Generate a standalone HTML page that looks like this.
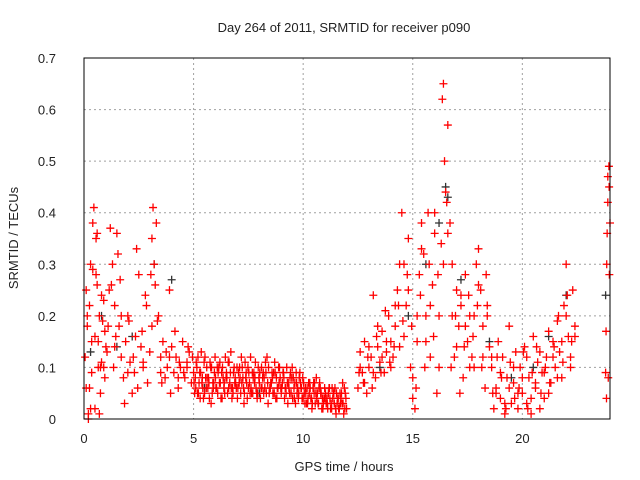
<!DOCTYPE html>
<html><head><meta charset="utf-8"><style>
body{margin:0;background:#fff}
svg{display:block;font-family:"Liberation Sans",sans-serif}
</style></head><body>
<svg id="chart" width="640" height="480" viewBox="0 0 640 480">
<rect width="640" height="480" fill="#fff"/>
<text x="344" y="32" font-size="13" text-anchor="middle" fill="#222">Day 264 of 2011, SRMTID for receiver p090</text>
<text x="344" y="471" font-size="13" text-anchor="middle" fill="#222">GPS time / hours</text>
<text x="18" y="238" font-size="13" text-anchor="middle" fill="#222" transform="rotate(-90 18 238)">SRMTID / TECUs</text>
<g id="grid"></g>
<g id="ticks"></g>
<g id="black"></g>
<g id="red"></g>
<rect x="84" y="58" width="526" height="361" fill="none" stroke="#000" stroke-width="1"/>
</svg>
<script>
const xTicks=[0,5,10,15,20];
const yTicks=[0,0.1,0.2,0.3,0.4,0.5,0.6,0.7];
const yTickLabels=["0","0.1","0.2","0.3","0.4","0.5","0.6","0.7"];
const redHours=[
0.05,0.1,0.15,0.2,0.25,0.3,0.35,0.4,0.45,0.5,0.55,0.6,0.65,0.7,0.75,0.8,0.85,0.9,0.95,1.0,0.1,0.2,0.3,0.4,0.5,0.6,0.7,0.8,0.9,1.1,
1.2,1.3,1.4,1.5,1.6,1.7,1.8,1.9,2.0,2.1,2.2,2.3,2.4,2.5,2.6,2.7,2.8,2.9,3.0,1.25,1.45,1.65,1.85,2.05,2.25,2.45,2.65,2.85,1.35,1.55,
3.1,3.15,3.2,3.25,3.3,3.4,3.5,3.6,3.7,3.8,3.9,4.0,4.1,4.2,4.3,4.4,4.5,4.6,4.7,4.8,4.9,3.05,3.35,3.55,3.75,3.95,4.15,4.35,4.55,4.75,
5.0,5.1,5.2,5.3,5.4,5.5,5.6,5.7,5.8,5.9,6.0,6.1,6.2,6.3,6.4,6.5,6.6,6.7,6.8,6.9,
7.0,7.1,7.2,7.3,7.4,7.5,7.6,7.7,7.8,7.9,8.0,8.1,8.2,8.3,8.4,8.5,8.6,8.7,8.8,8.9,
9.0,9.1,9.2,9.3,9.4,9.5,9.6,9.7,9.8,9.9,10.0,10.1,10.2,10.3,10.4,10.5,10.6,10.7,10.8,10.9,
11.0,11.1,11.2,11.3,11.4,11.5,11.6,11.7,11.8,11.9,
5.05,5.15,5.25,5.35,5.45,5.55,5.65,5.75,5.85,5.95,6.05,6.15,6.25,6.35,6.45,6.55,6.65,6.75,6.85,6.95,
7.05,7.15,7.25,7.35,7.45,7.55,7.65,7.75,7.85,7.95,8.05,8.15,8.25,8.35,8.45,8.55,8.65,8.75,8.85,8.95,
9.05,9.15,9.25,9.35,9.45,9.55,9.65,9.75,9.85,9.95,10.05,10.15,10.25,10.35,10.45,10.55,10.65,10.75,10.85,10.95,
11.05,11.15,11.25,11.35,11.45,11.55,11.65,11.75,11.85,11.95,
12.5,12.6,12.7,12.8,12.9,13.0,13.1,13.2,13.3,13.4,13.5,13.6,13.7,13.8,13.9,14.0,14.1,14.2,14.3,14.4,14.5,14.6,14.7,14.8,14.9,15.0,15.1,15.2,15.3,15.4,15.5,15.6,15.7,15.8,15.9,16.0,12.55,12.75,12.95,13.15,13.35,13.55,13.75,13.95,14.15,14.35,14.55,14.75,14.95,15.15,15.35,15.55,15.75,15.95,
16.1,16.2,16.3,16.35,16.4,16.45,16.5,16.6,16.7,16.8,16.9,17.0,17.1,17.2,17.3,17.4,17.5,17.6,17.7,17.8,17.9,18.0,18.1,18.2,18.3,18.4,18.5,16.15,16.55,16.75,16.95,17.15,17.35,17.55,17.75,17.95,18.15,18.35,
18.6,18.7,18.8,18.9,19.0,19.1,19.2,19.3,19.4,19.5,19.6,19.7,19.8,19.9,20.0,20.1,20.2,20.3,20.4,20.5,20.6,20.7,20.8,20.9,21.0,21.1,21.2,21.3,21.4,21.5,21.6,21.7,21.8,21.9,22.0,22.1,22.2,22.3,22.4,18.65,18.85,19.05,19.25,19.45,19.65,19.85,20.05,20.25,20.45,20.65,20.85,21.05,21.25,21.45,21.65,21.85,22.05,22.25,
23.8,23.85,23.9,23.95,24.0,23.82,23.87,23.92,23.97,23.84,23.9,23.96];
const redValues=[
0.12,0.25,0.18,0.01,0.22,0.3,0.09,0.38,0.41,0.02,0.35,0.26,0.15,0.2,0.05,0.11,0.19,0.23,0.08,0.14,0.06,0.0,0.02,0.29,0.16,0.36,0.01,0.24,0.1,0.18,
0.37,0.3,0.22,0.36,0.18,0.12,0.08,0.15,0.2,0.11,0.05,0.09,0.33,0.28,0.14,0.1,0.24,0.07,0.13,0.26,0.16,0.27,0.03,0.19,0.12,0.06,0.17,0.22,0.1,0.32,
0.35,0.41,0.3,0.26,0.38,0.2,0.12,0.15,0.08,0.1,0.25,0.14,0.09,0.12,0.06,0.1,0.15,0.08,0.11,0.13,0.07,0.28,0.19,0.07,0.13,0.05,0.17,0.11,0.09,0.14,
0.09,0.06,0.12,0.04,0.08,0.05,0.1,0.07,0.03,0.06,0.08,0.05,0.11,0.04,0.07,0.09,0.06,0.13,0.05,0.08,
0.04,0.1,0.07,0.03,0.09,0.06,0.12,0.05,0.08,0.04,0.07,0.1,0.05,0.09,0.03,0.06,0.08,0.11,0.04,0.07,
0.05,0.09,0.06,0.03,0.08,0.1,0.04,0.07,0.05,0.06,0.04,0.06,0.03,0.07,0.02,0.05,0.08,0.03,0.05,0.02,
0.04,0.03,0.06,0.02,0.05,0.01,0.04,0.03,0.07,0.02,
0.05,0.1,0.07,0.13,0.04,0.08,0.06,0.11,0.05,0.09,0.06,0.1,0.04,0.08,0.12,0.05,0.07,0.04,0.1,0.06,
0.09,0.05,0.08,0.11,0.04,0.07,0.05,0.09,0.06,0.1,0.04,0.08,0.06,0.12,0.05,0.07,0.09,0.04,0.06,0.08,
0.07,0.04,0.1,0.06,0.05,0.08,0.03,0.06,0.09,0.04,0.05,0.03,0.07,0.04,0.06,0.03,0.05,0.07,0.02,0.04,
0.03,0.05,0.02,0.04,0.06,0.03,0.02,0.05,0.01,0.04,
0.06,0.13,0.09,0.15,0.05,0.1,0.12,0.24,0.08,0.14,0.11,0.17,0.09,0.13,0.2,0.15,0.12,0.18,0.25,0.14,0.4,0.3,0.22,0.35,0.1,0.04,0.02,0.15,0.28,0.38,0.32,0.2,0.4,0.12,0.26,0.36,0.09,0.07,0.12,0.06,0.16,0.09,0.21,0.11,0.14,0.22,0.19,0.28,0.18,0.06,0.24,0.1,0.3,0.16,
0.05,0.2,0.34,0.62,0.65,0.5,0.44,0.57,0.38,0.3,0.12,0.25,0.18,0.22,0.08,0.28,0.15,0.2,0.12,0.1,0.3,0.33,0.25,0.18,0.06,0.2,0.14,0.28,0.42,0.1,0.2,0.05,0.14,0.24,0.16,0.22,0.1,0.28,
0.1,0.02,0.06,0.15,0.04,0.12,0.01,0.08,0.18,0.03,0.07,0.13,0.02,0.1,0.05,0.14,0.03,0.08,0.01,0.16,0.06,0.11,0.02,0.09,0.04,0.12,0.17,0.07,0.15,0.1,0.19,0.13,0.08,0.22,0.3,0.16,0.12,0.25,0.18,0.05,0.12,0.08,0.02,0.11,0.04,0.06,0.13,0.02,0.09,0.14,0.05,0.1,0.07,0.14,0.2,0.11,0.24,0.15,
0.09,0.3,0.42,0.49,0.38,0.17,0.36,0.08,0.28,0.04,0.47,0.45];
const quietHoursB=[
5.02,5.12,5.22,5.32,5.42,5.52,5.62,5.72,5.82,5.92,6.02,6.12,6.22,6.32,6.42,6.52,6.62,6.72,6.82,6.92,
7.02,7.12,7.22,7.32,7.42,7.52,7.62,7.72,7.82,7.92,8.02,8.12,8.22,8.32,8.42,8.52,8.62,8.72,8.82,8.92,
9.02,9.12,9.22,9.32,9.42,9.52,9.62,9.72,9.82,9.92,10.02,10.12,10.22,10.32,10.42,10.52,10.62,10.72,10.82,10.92,
11.02,11.12,11.22,11.32,11.42,11.52,11.62,11.72,11.82,11.92];
const quietValuesB=[
0.07,0.11,0.05,0.09,0.06,0.12,0.08,0.04,0.1,0.07,0.06,0.09,0.07,0.1,0.05,0.08,0.11,0.06,0.09,0.07,
0.06,0.08,0.1,0.05,0.07,0.09,0.06,0.08,0.11,0.05,0.09,0.06,0.08,0.05,0.1,0.07,0.05,0.09,0.06,0.1,
0.06,0.08,0.05,0.07,0.09,0.04,0.07,0.05,0.08,0.06,0.07,0.05,0.04,0.06,0.03,0.07,0.04,0.06,0.05,0.03,
0.05,0.02,0.04,0.06,0.03,0.05,0.02,0.04,0.03,0.05];
const quietHoursC=[
5.08,5.18,5.28,5.38,5.48,5.58,5.68,5.78,5.88,5.98,6.08,6.18,6.28,6.38,6.48,6.58,6.68,6.78,6.88,6.98,
7.08,7.18,7.28,7.38,7.48,7.58,7.68,7.78,7.88,7.98,8.08,8.18,8.28,8.38,8.48,8.58,8.68,8.78,8.88,8.98,
9.08,9.18,9.28,9.38,9.48,9.58,9.68,9.78,9.88,9.98,10.08,10.18,10.28,10.38,10.48,10.58,10.68,10.78,10.88,10.98,
11.08,11.18,11.28,11.38,11.48,11.58,11.68,11.78,11.88,11.98];
const quietValuesC=[
0.08,0.05,0.09,0.07,0.11,0.06,0.08,0.1,0.07,0.12,0.1,0.07,0.09,0.06,0.08,0.11,0.09,0.06,0.07,0.1,
0.07,0.12,0.06,0.08,0.1,0.05,0.09,0.07,0.05,0.08,0.06,0.09,0.11,0.07,0.06,0.09,0.05,0.08,0.1,0.06,
0.09,0.06,0.07,0.05,0.08,0.06,0.09,0.04,0.07,0.08,0.03,0.06,0.05,0.04,0.07,0.05,0.03,0.06,0.04,0.06,
0.04,0.06,0.03,0.05,0.02,0.04,0.05,0.03,0.06,0.02];
const activeHoursD=[12.6,12.8,13.0,13.2,13.4,13.6,13.8,14.0,14.2,14.4,14.6,14.8,15.0,15.2,15.4,15.6,15.8,16.0,16.2,16.4,16.6,16.8,17.0,17.2,17.4,17.6,17.8,18.0,18.2,18.4,18.6,18.8,19.0,19.2,19.4,19.6,19.8,20.0,20.2,20.4,20.6,20.8,21.0,21.2,21.4,21.6,21.8,22.0,22.2,22.4,
0.15,0.35,0.55,0.75,0.95,1.15,1.4,1.7,2.0,2.35,2.7,3.1,3.5,3.9,4.3,4.7,4.95,0.25,0.65,1.05];
const activeValuesD=[0.1,0.07,0.14,0.09,0.18,0.12,0.15,0.1,0.22,0.3,0.16,0.25,0.08,0.2,0.33,0.15,0.22,0.4,0.1,0.3,0.36,0.2,0.14,0.24,0.18,0.1,0.2,0.26,0.12,0.22,0.12,0.05,0.09,0.03,0.06,0.1,0.05,0.08,0.12,0.04,0.07,0.13,0.09,0.05,0.12,0.08,0.15,0.2,0.1,0.16,
0.2,0.15,0.28,0.1,0.17,0.25,0.14,0.2,0.09,0.16,0.11,0.18,0.09,0.12,0.08,0.1,0.12,0.06,0.1,0.13];
const blackHours=[0.3,0.8,1.5,2.2,3.2,4.0,5.5,8,13.5,14.8,15.6,16.2,16.5,16.6,17.2,18.5,19.5,20.5,21.2,22,23.8];
const blackValues=[0.13,0.2,0.14,0.16,0.3,0.27,0.06,0.05,0.1,0.2,0.3,0.38,0.45,0.43,0.27,0.15,0.08,0.1,0.16,0.24,0.24];

const NS="http://www.w3.org/2000/svg";
const X0=84,X1=610,Y0=419,Y1=58;
function xScale(h){return X0+(h/24)*(X1-X0);}
function yScale(v){return Y0-(v/0.7)*(Y0-Y1);}
function mk(tag,attrs,parent){const e=document.createElementNS(NS,tag);for(const k in attrs)e.setAttribute(k,attrs[k]);parent.appendChild(e);return e;}
const grid=document.getElementById('grid'),ticks=document.getElementById('ticks');
xTicks.forEach((t,i)=>{
  const x=xScale(t);
  if(t>0){const g=mk('line',{x1:x,x2:x,y1:Y1,y2:Y0,stroke:'#a0a0a0','stroke-dasharray':'2,3'},grid);
  
  }
  const tl=mk('text',{x:x,y:443,'font-size':13,'text-anchor':'middle',fill:'#222'},ticks);
  tl.textContent=String(t);
  
  
});
yTicks.forEach((t,i)=>{
  const y=yScale(t);
  if(t>0&&t<0.7){const g=mk('line',{x1:X0,x2:X1,y1:y,y2:y,stroke:'#a0a0a0','stroke-dasharray':'2,3'},grid);
  
  }
  const tl=mk('text',{x:56,y:y+5,'font-size':13,'text-anchor':'end',fill:'#222'},ticks);
  tl.textContent=yTickLabels[i];
  
  
});
function plus(gid,hours,vals,color){
  const g=document.getElementById(gid);
  hours.forEach((h,i)=>{
    const x=xScale(h),y=yScale(vals[i]);
    const p=mk('path',{d:`M${x-4},${y}H${x+4}M${x},${y-4}V${y+4}`,stroke:color,'stroke-width':1.3,fill:'none'},g);
    
    
  });
}
plus('black',blackHours,blackValues,'#333');
plus('red',redHours,redValues,'#ff0000');
plus('red',quietHoursB,quietValuesB,'#ff0000');
plus('red',quietHoursC,quietValuesC,'#ff0000');
plus('red',activeHoursD,activeValuesD,'#ff0000');
</script>
</body></html>
